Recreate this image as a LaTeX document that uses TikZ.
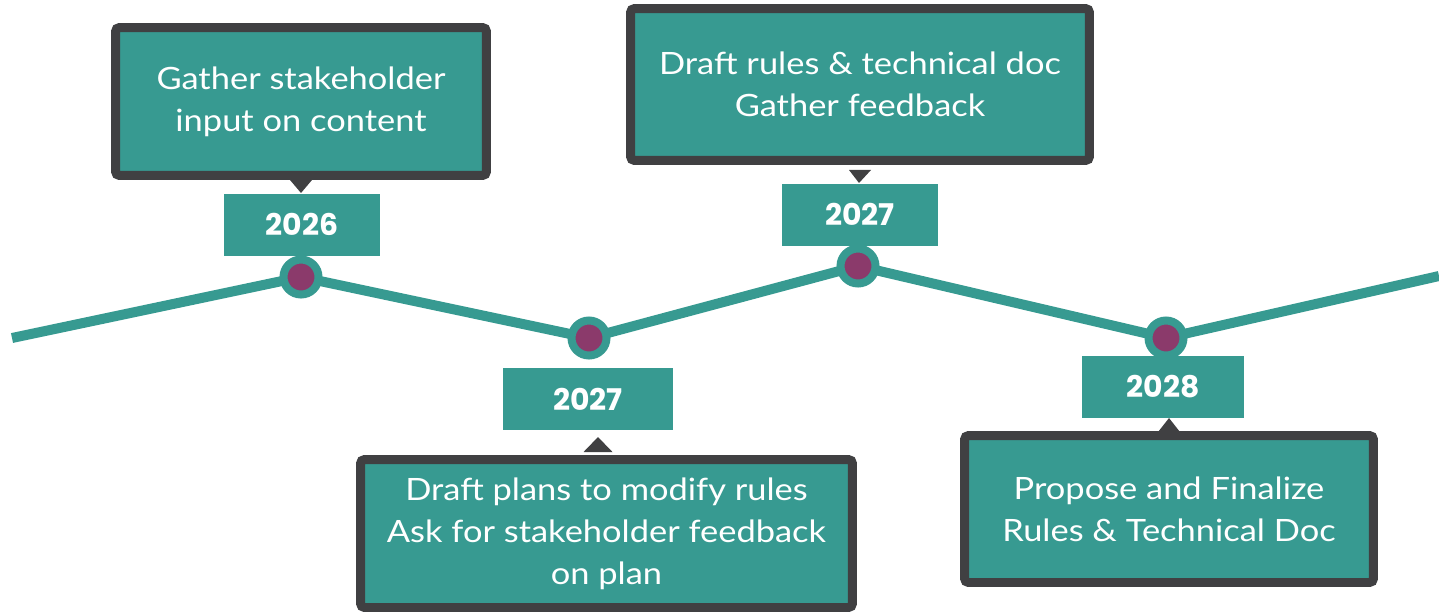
\documentclass[tikz,border=0pt]{standalone}
\usepackage{fontspec}
\setmainfont{Lato}[FakeStretch=1.12]
\newfontfamily\yearfont{Poppins}
\usepackage{tikz}
\usetikzlibrary{positioning,calc,backgrounds}

\definecolor{tealbox}{HTML}{379A91}
\definecolor{darkrim}{HTML}{404042}
\definecolor{plum}{HTML}{8B3A6B}

\begin{document}
\begin{tikzpicture}[
        x=0.02cm, y=-0.02cm,
        note/.style={rectangle, draw=darkrim, line width=0.18cm, rounded corners=0.08cm, fill=tealbox, text=white, align=center, font=\fontsize{17.5}{24}\selectfont, inner sep=0pt},
        year/.style={rectangle, fill=tealbox, text=white, minimum height=1.24cm, font=\yearfont\bfseries\fontsize{17}{20}\selectfont, inner sep=0pt},
        milestone/.style={circle, fill=plum, draw=tealbox, line width=0.16cm, minimum size=0.7cm, inner sep=0pt},
        track/.style={draw=tealbox, line width=0.2cm},
        pointer/.style={fill=darkrim}
    ]
    \useasboundingbox (0,0) rectangle (1439,613);

    % Timeline
    \coordinate (start) at (12,338);
    \coordinate (finish) at (1439,276);
    \node[milestone] (m1) at (301,277) {};
    \node[milestone] (m2) at (589,338) {};
    \node[milestone] (m3) at (858,266) {};
    \node[milestone] (m4) at (1166,338) {};
    \begin{scope}[on background layer]
    \draw[track] (start) -- (m1.center) -- (m2.center) -- (m3.center) -- (m4.center) -- (finish);
    \end{scope}

    % Years
    \node[year, minimum width=3.12cm] (y1) at (302,224.5) {2026};
    \node[year, minimum width=3.42cm] (y2) at (588,399) {2027};
    \node[year, minimum width=3.12cm] (y3) at (860,214.5) {2027};
    \node[year, minimum width=3.24cm] (y4) at (1163,387) {2028};

    % Notes
    \node[note, minimum width=7.42cm, minimum height=2.96cm] (n1) at (301,101.5) {Gather stakeholder\\input on content};
    \node[note, minimum width=9.18cm, minimum height=3.04cm] (n2) at (860,84.5) {Draft rules \& technical doc\\Gather feedback};
    \node[note, minimum width=9.84cm, minimum height=2.96cm] (n3) at (606.5,533.5) {Draft plans to modify rules\\Ask for stakeholder feedback\\on plan};
    \node[note, minimum width=8.18cm, minimum height=2.94cm] (n4) at (1169,509) {Propose and Finalize\\Rules \& Technical Doc};

    % Pointers
    \fill[pointer] ($(n1.south)+(-11,0)$) -- ($(n1.south)+(11,0)$) -- ($(n1.south)+(0,13)$) -- cycle;
    \fill[pointer] ($(n2.south)+(-11,5)$) -- ($(n2.south)+(11,5)$) -- ($(n2.south)+(-1,18)$) -- cycle;
    \fill[pointer] ($(n3.north)+(-23,-3)$) -- ($(n3.north)+(6,-3)$) -- ($(n3.north)+(-8.5,-18)$) -- cycle;
    \fill[pointer] ($(n4.north)+(-11,1)$) -- ($(n4.north)+(11,1)$) -- ($(n4.north)+(0,-13)$) -- cycle;

\end{tikzpicture}
\end{document}
